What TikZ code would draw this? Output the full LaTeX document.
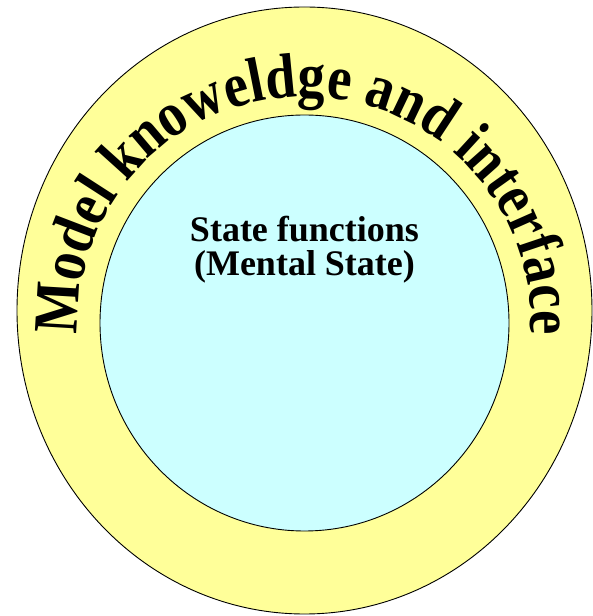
\documentclass[tikz,border=0pt]{standalone}
\usepackage{fontspec}
\setmainfont{Liberation Serif}
\newfontfamily\arcfont{Liberation Serif}[FakeStretch=0.87]
\usetikzlibrary{positioning,shapes.geometric,decorations.text}

\definecolor{ringyellow}{RGB}{255,255,153}
\definecolor{corecyan}{RGB}{204,255,255}

\begin{document}
\begin{tikzpicture}[x=1pt, y=1pt]
	\useasboundingbox (0,0) rectangle (593,616);
	\node (outer) [ellipse, draw=black, line width=0.9pt, fill=ringyellow, inner sep=0pt, minimum width=575pt, minimum height=607pt] at (304.5,305.5) {};
	\node (inner) [ellipse, draw=black, line width=0.9pt, fill=corecyan, inner sep=0pt, minimum width=409pt, minimum height=416pt] at (304.5,293) {};
	\node (state) [align=center, font=\bfseries\fontsize{36}{34}\selectfont, below=101pt of inner.north, inner sep=0pt]
	{
		State functions\\
		(Mental State)
	};
	
	\path [decorate, decoration={text along path, text align=center, text={|\arcfont\bfseries\fontsize{63}{66}\selectfont|Model knoweldge and interface}}]
		([shift={(185:226.5pt)}]inner.center) arc[start angle=185, end angle=-5, radius=226.5pt];
\end{tikzpicture}
\end{document}
